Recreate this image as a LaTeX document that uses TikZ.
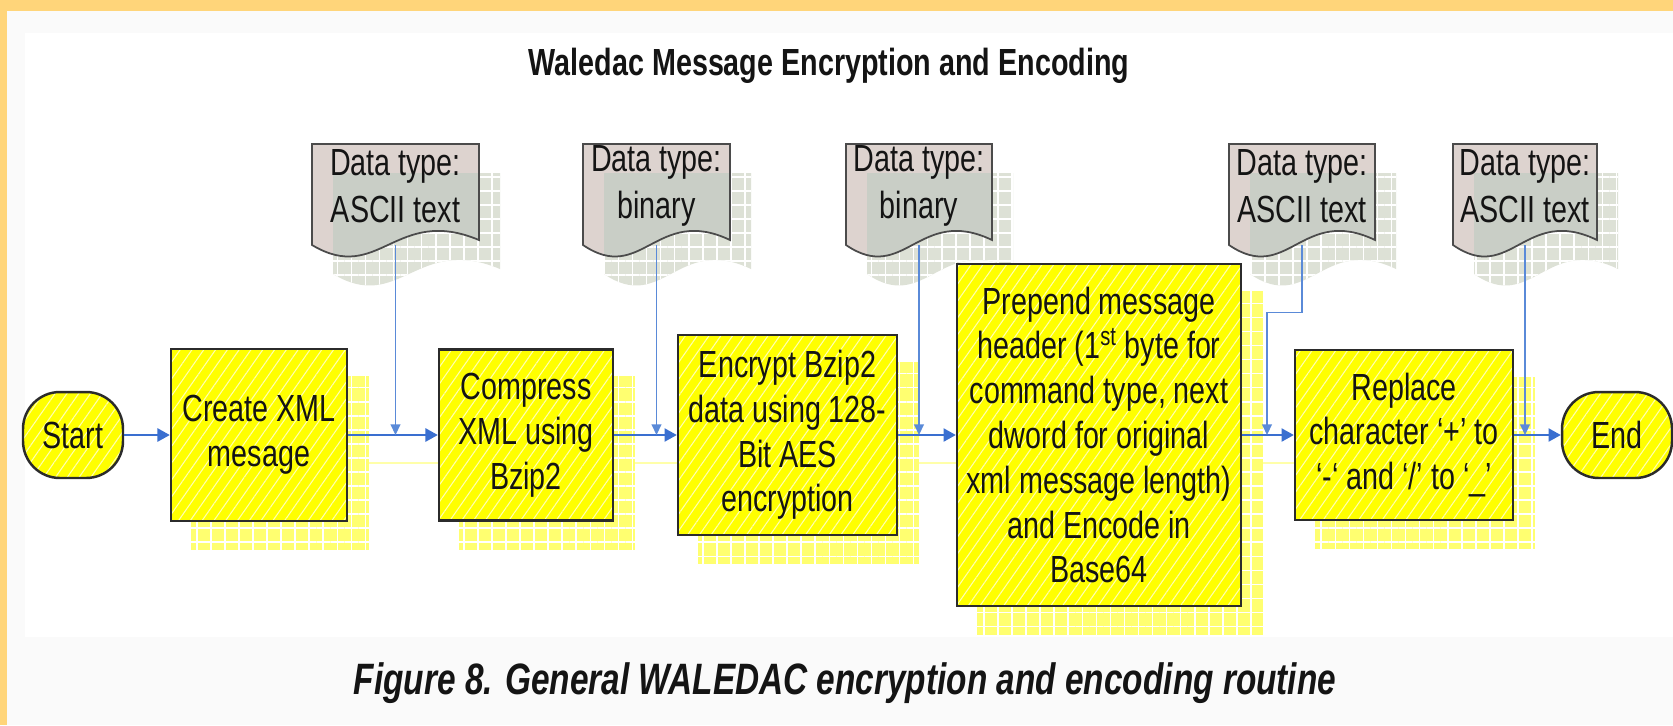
\documentclass[tikz,border=0pt]{standalone}
\usepackage{fontspec}
\setmainfont{Liberation Sans}[FakeStretch=0.76]
\usepackage{tikz}
\usetikzlibrary{
    calc,
    arrows.meta,
    patterns.meta,
    backgrounds
}
\pgfdeclarelayer{bg}
\pgfsetlayers{bg,main}

\definecolor{frameorange}{HTML}{FFD57A}
\definecolor{paneloff}{HTML}{FAFAFA}
\definecolor{boxyellow}{HTML}{FFFF00}
\definecolor{stripe}{HTML}{FFFFB0}
\definecolor{shadowyellow}{HTML}{FFFF70}
\definecolor{boxline}{HTML}{2B2B2B}
\definecolor{docpink}{HTML}{DDD3CF}
\definecolor{docshade}{HTML}{C9CEC6}
\definecolor{docshadow}{HTML}{DDE1D6}
\definecolor{flowblue}{HTML}{3A6FD0}
\definecolor{feedblue}{HTML}{5A8AD8}
\definecolor{ink}{HTML}{141414}

\newcommand{\flowfont}{\fontsize{21.5}{25.5}\selectfont}
\newcommand{\docfont}{\fontsize{21.5}{26.6}\selectfont}
\newcommand{\titlefont}{\fontsize{21.5}{26}\selectfont\bfseries}
\newcommand{\capfont}{\fontsize{25}{30}\selectfont\bfseries\itshape}
% outline of a data type sheet: left x, width
\newcommand{\docoutline}[2]{(#1,144) -- ({#1+#2},144) -- ({#1+#2},240)
    .. controls ({#1+0.5*#2},205) and ({#1+0.4*#2},285) .. (#1,245) -- cycle}

\tikzset{
    flowbox/.style={draw=boxline, line width=1.4pt, preaction={fill=boxyellow},
        pattern={Lines[angle=55,distance=5.5pt,line width=0.6pt]}, pattern color=stripe,
        align=center, inner sep=0pt, text=ink, font=\flowfont},
    terminal/.style={flowbox, rounded corners=21pt},
    docnode/.style={inner sep=0pt, minimum height=2.02cm},
    doctext/.style={align=center, inner sep=0pt, text=ink, font=\docfont},
    docline/.style={draw=boxline!85, line width=1pt},
    gridshade/.style={pattern={Hatch[angle=0,distance=8pt,line width=0.9pt]}, pattern color=white},
    flow/.style={draw=flowblue, line width=1.1pt, -{Triangle[length=7pt,width=7.5pt]}},
    feed/.style={draw=feedblue, line width=0.8pt, -{Triangle[length=6pt,width=5.5pt]}},
    flowshadow/.style={draw=shadowyellow!60, line width=1.2pt}
}

\begin{document}
\begin{tikzpicture}[x=0.02cm, y=-0.02cm]
    \useasboundingbox (0,0) rectangle (1673,725);
    \begin{pgfonlayer}{bg}
        \fill[paneloff] (0,0) rectangle (1673,725);
        \fill[white] (25,33) rectangle (1673,637);
        \fill[frameorange] (0,0) rectangle (1673,11);
        \fill[frameorange] (0,0) rectangle (7,725);
    \end{pgfonlayer}

    \node[font=\titlefont, text=ink] (title) at (829,66) {Waledac Message Encryption and Encoding};

    % data type sheets
    \foreach \x/\w/\nm/\txt in {312/167/d1/{ASCII text}, 583/147/d2/binary,
        846/146/d3/binary, 1229/146/d4/{ASCII text}, 1453/144/d5/{ASCII text}}{
        \begin{scope}[shift={(21,29)}]
            \fill[docshadow] \docoutline{\x}{\w};
            \fill[gridshade] \docoutline{\x}{\w};
        \end{scope}
        \fill[docpink] \docoutline{\x}{\w};
        \begin{scope}
            \clip \docoutline{\x}{\w};
            \fill[docshade, shift={(21,29)}] \docoutline{\x}{\w};
        \end{scope}
        \draw[docline] \docoutline{\x}{\w};
        \node[docnode, minimum width=\w*0.02cm,
            label={[doctext, yshift=0.17cm]center:{Data type:\\\txt}}] (\nm) at ({\x+0.5*\w},194.5) {};
    }

    % main flow
    \node[terminal, minimum width=2cm, minimum height=1.72cm] (start) at (73,435) {Start};
    \node[flowbox, minimum width=3.52cm, minimum height=3.44cm] (xml) at (259,435) {Create XML\\mesage};
    \node[flowbox, minimum width=3.48cm, minimum height=3.42cm] (bzip) at (526,435) {Compress\\XML using\\Bzip2};
    \node[flowbox, minimum width=4.38cm, minimum height=4cm] (aes) at (787.5,435) {Encrypt Bzip2\\data using 128-\\Bit AES\\encryption};
    \node[flowbox, minimum width=5.68cm, minimum height=6.84cm] (hdr) at (1099,435)
        {Prepend message\\header (1\textsuperscript{st} byte for\\command type, next\\dword for original\\xml message length)\\and Encode in\\Base64};
    \node[flowbox, minimum width=4.36cm, minimum height=3.4cm] (repl) at (1404,435) {Replace\\character ‘+’ to\\‘-‘ and ‘/’ to ‘\_’};
    \node[terminal, minimum width=2.2cm, minimum height=1.72cm] (end) at (1617,435) {End};

    % shadows
    \begin{pgfonlayer}{bg}
        \foreach \a/\b in {xml/bzip, bzip/aes, aes/hdr, hdr/repl}
            \draw[flowshadow] ($(\a.east)+(21,28)$) -- ($(\b.west)+(21,28)$);
        \foreach \b in {xml, bzip, aes, hdr, repl}{
            \fill[shadowyellow] ($(\b.north west)+(21,28)$) rectangle ($(\b.south east)+(21,28)$);
            \fill[gridshade] ($(\b.north west)+(21,28)$) rectangle ($(\b.south east)+(21,28)$);
        }
    \end{pgfonlayer}

    \foreach \a/\b in {start/xml, xml/bzip, bzip/aes, aes/hdr, hdr/repl, repl/end}
        \draw[flow] (\a.east) -- (\b.west);

    \draw[feed] (d1.south) -- (d1.south |- xml.east);
    \draw[feed] (d2.south) -- (d2.south |- bzip.east);
    \draw[feed] (d3.south) -- (d3.south |- aes.east);
    \draw[feed] (d4.south) -- ++(0,67) -| ($(d4.south |- hdr.east)+(-35,0)$);
    \draw[feed] (d5.south) -- (d5.south |- repl.east);

    \node[font=\capfont, text=ink] (caption) at (845,683) {Figure 8. General WALEDAC encryption and encoding routine};
\end{tikzpicture}
\end{document}
